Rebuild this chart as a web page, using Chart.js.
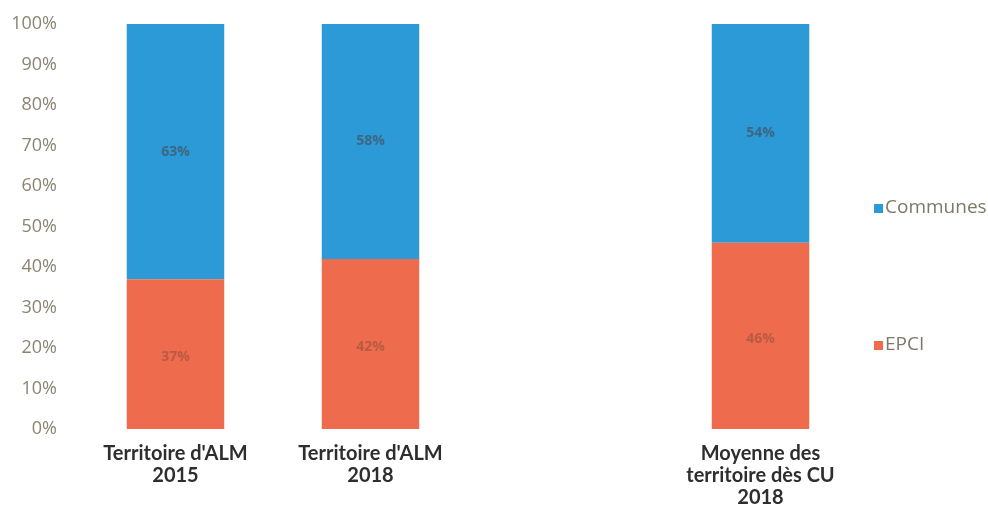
<!DOCTYPE html>
<html>
<head>
<meta charset="utf-8">
<script src="https://cdn.jsdelivr.net/npm/chart.js@4/dist/chart.umd.min.js"></script>
<style>
  html, body { margin: 0; padding: 0; background: #ffffff; }
  #wrap { width: 988px; height: 516px; position: relative; }
</style>
</head>
<body>
<div id="wrap"><canvas id="c" width="988" height="516"></canvas></div>
<script>
// Categories (the empty slot keeps the gap before the CU average)
const categories = [
  ["Territoire d'ALM", "2015"],
  ["Territoire d'ALM", "2018"],
  "",
  ["Moyenne des", "territoire dès CU", "2018"]
];
const epci = [37, 42, null, 46];
const communes = [63, 58, null, 54];
const yTicks = [0, 10, 20, 30, 40, 50, 60, 70, 80, 90, 100];

const BLUE = '#2b9ad6';
const ORANGE = '#ee6b4d';

// Percent labels centred in each bar segment
const valueLabels = {
  id: 'valueLabels',
  afterDatasetsDraw(chart) {
    const ctx = chart.ctx;
    ctx.save();
    ctx.font = 'bold 14px "Open Sans", sans-serif';
    ctx.textAlign = 'center';
    ctx.textBaseline = 'middle';
    chart.data.datasets.forEach((ds, i) => {
      const meta = chart.getDatasetMeta(i);
      meta.data.forEach((bar, j) => {
        const v = ds.data[j];
        if (v == null) return;
        const p = bar.getProps(['x', 'y', 'base'], true);
        const yMid = (p.y + p.base) / 2 + (i === 0 ? 3 : 0);
        ctx.fillStyle = i === 1 ? 'rgba(70,80,95,0.7)' : 'rgba(150,80,60,0.6)';
        ctx.fillText(v + '%', p.x, yMid);
      });
    });
    ctx.restore();
  }
};

// Legend drawn to the right of the plot, Communes above EPCI
const sideLegend = {
  id: 'sideLegend',
  afterDraw(chart) {
    const ctx = chart.ctx;
    ctx.save();
    ctx.font = '19px "Open Sans", sans-serif';
    ctx.textBaseline = 'middle';
    const items = [
      { label: 'Communes', color: BLUE, y: 208 },
      { label: 'EPCI', color: ORANGE, y: 345 }
    ];
    items.forEach(it => {
      ctx.fillStyle = it.color;
      ctx.fillRect(874, it.y - 4, 9, 9);
      ctx.fillStyle = '#7d7868';
      ctx.fillText(it.label, 885, it.y);
    });
    ctx.restore();
  }
};

new Chart(document.getElementById('c'), {
  type: 'bar',
  data: {
    labels: categories,
    datasets: [
      { label: 'EPCI', data: epci, backgroundColor: ORANGE, barPercentage: 1, categoryPercentage: 0.5 },
      { label: 'Communes', data: communes, backgroundColor: BLUE, barPercentage: 1, categoryPercentage: 0.5 }
    ]
  },
  options: {
    responsive: false,
    animation: false,
    layout: { padding: { left: 8, right: 130, top: 24, bottom: 2 } },
    plugins: {
      legend: { display: false },
      tooltip: { enabled: false }
    },
    scales: {
      x: {
        stacked: true,
        afterFit(axis) { axis.height = 85; },
        grid: { display: false, drawTicks: false },
        border: { display: false },
        ticks: {
          color: '#2e2e2e',
          font: { family: 'Lato', weight: 'bold', size: 20, lineHeight: 1.1 },
          padding: 14,
          maxRotation: 0,
          autoSkip: false
        }
      },
      y: {
        stacked: true,
        min: 0,
        max: 100,
        afterBuildTicks(axis) { axis.ticks = yTicks.map(v => ({ value: v })); },
        afterFit(axis) {
          axis.width = 70;
          axis.paddingTop = 0;
          axis.paddingBottom = 0;
        },
        grid: { display: false, drawTicks: false },
        border: { display: false },
        ticks: {
          color: '#8a8472',
          font: { family: '"Open Sans"', size: 18 },
          padding: 21,
          callback: v => v + '%'
        }
      }
    }
  },
  plugins: [valueLabels, sideLegend]
});
</script>
</body>
</html>
